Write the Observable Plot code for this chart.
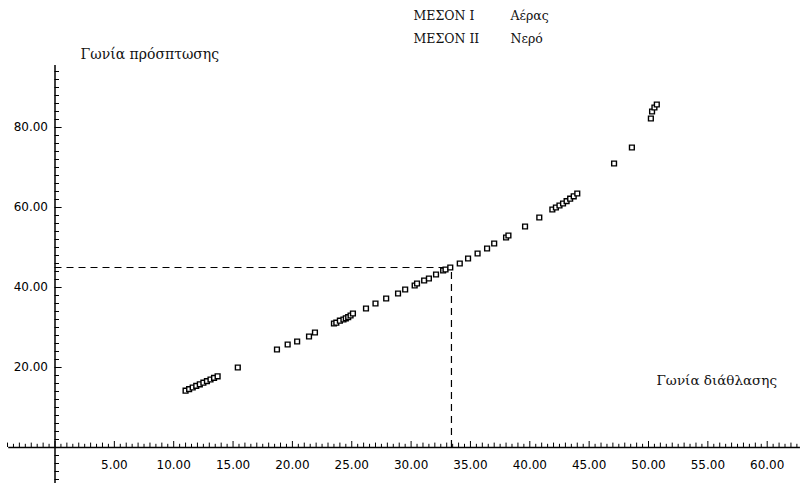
<!DOCTYPE html>
<html>
<head>
<meta charset="utf-8">
<script src="https://cdn.jsdelivr.net/npm/d3@7"></script>
<script src="https://cdn.jsdelivr.net/npm/@observablehq/plot@0.6"></script>
<style>
  body { margin: 0; background: #fff; }
  #chart svg { display: block; }
</style>
</head>
<body>
<div id="chart"></div>
<script>
// Γωνία διάθλασης (refraction angle, x) and Γωνία πρόσπτωσης (incidence angle, y)
const refraction = [
  11.0, 11.3, 11.6, 11.9, 12.2, 12.5, 12.8, 13.1, 13.4, 13.7,
  15.4, 18.7, 19.6, 20.4, 21.4, 21.9,
  23.5, 23.7, 24.0, 24.3, 24.5, 24.7, 24.9, 25.1,
  26.2, 27.0, 27.9, 28.9, 29.5, 30.3, 30.5, 31.1, 31.5, 32.1, 32.7, 32.9, 33.3,
  34.1, 34.8, 35.6, 36.4, 37.0, 38.0, 38.2, 39.6, 40.8,
  41.9, 42.2, 42.5, 42.8, 43.1, 43.4, 43.7, 44.0,
  47.1, 48.6, 50.2, 50.3, 50.5, 50.7
];
const incidence = [
  14.2, 14.6, 15.0, 15.4, 15.8, 16.2, 16.6, 17.0, 17.4, 17.8,
  20.0, 24.5, 25.75, 26.5, 27.75, 28.75,
  31.0, 31.2, 31.7, 32.0, 32.3, 32.6, 33.0, 33.5,
  34.75, 36.0, 37.25, 38.5, 39.5, 40.5, 41.0, 41.75, 42.25, 43.25, 44.25, 44.5, 45.0,
  46.0, 47.25, 48.5, 49.75, 51.0, 52.5, 53.0, 55.25, 57.5,
  59.5, 60.0, 60.5, 61.0, 61.6, 62.2, 62.8, 63.5,
  71.0, 75.0, 82.25, 84.0, 85.0, 85.75
];
const guideX = 33.4;   // dashed guide: refraction angle
const guideY = 45;     // dashed guide: incidence angle

const xTickLabels = [5, 10, 15, 20, 25, 30, 35, 40, 45, 50, 55, 60];
const yTickLabels = [20, 40, 60, 80];
const xMinorTicks = d3.range(-4, 63, 0.5);
const yMinorTicks = d3.range(-8, 96, 2);

const legendLabels = ["ΜΕΣΟΝ Ι", "ΜΕΣΟΝ ΙΙ"];
const legendValues = ["Αέρας", "Νερό"];
const yTitle = "Γωνία πρόσπτωσης";
const xTitle = "Γωνία διάθλασης";

const points = refraction.map((x, i) => ({x, y: incidence[i]}));

const W = 801, H = 483;
const pxX = 11.87, pxY = 4.0;       // pixels per unit
const x0 = 54.5, y0 = 447;          // pixel position of origin

const serif = "DejaVu Serif";
const sans = "DejaVu Sans";

const legendMarks = legendLabels.flatMap((lab, i) => [
  Plot.text([lab], {frameAnchor: "top-left", dx: 413, dy: 15 + i * 23, textAnchor: "start", lineAnchor: "middle", text: d => d, fontFamily: serif, fontSize: 12.5, fill: "#111"}),
  Plot.text([legendValues[i]], {frameAnchor: "top-left", dx: 510, dy: 15 + i * 23, textAnchor: "start", lineAnchor: "middle", text: d => d, fontFamily: serif, fontSize: 12.5, fill: "#111"})
]);

const chart = Plot.plot({
  width: W, height: H,
  marginLeft: 0, marginRight: 0, marginTop: 0, marginBottom: 0,
  x: {domain: [-x0 / pxX, (W - x0) / pxX], axis: null},
  y: {domain: [-(H - y0) / pxY, y0 / pxY], axis: null},
  style: {background: "#fff", color: "#000"},
  marks: [
    // axes lines
    Plot.ruleY([0], {x1: -3.9, x2: 62.8, stroke: "#000", strokeWidth: 1.5}),
    Plot.ruleX([0], {y1: -9, y2: 95.5, stroke: "#000", strokeWidth: 1.5}),
    // x ticks (upward)
    Plot.ruleX(xMinorTicks, {x: d => d, y1: 0, y2: d => (d % 5 === 0 ? 1.5 : (Number.isInteger(d) ? 1.1 : 0.8)), stroke: "#000", strokeWidth: 1}),
    // y ticks (to the right)
    Plot.ruleY(yMinorTicks, {y: d => d, x1: 0, x2: d => (d % 20 === 0 ? 0.6 : 0.38), stroke: "#000", strokeWidth: 1}),
    // tick labels
    Plot.text(xTickLabels, {x: d => d, y: 0, dy: 18, text: d => d3.format(".2f")(d), fontFamily: sans, fontSize: 12, fill: "#000"}),
    Plot.text(yTickLabels, {x: 0, y: d => d, dx: -7, textAnchor: "end", text: d => d3.format(".2f")(d), fontFamily: sans, fontSize: 12, fill: "#000"}),
    // dashed guides
    Plot.ruleY([guideY], {x1: 0, x2: guideX, stroke: "#000", strokeWidth: 1.2, strokeDasharray: "7,5"}),
    Plot.ruleX([guideX], {y1: 0, y2: guideY, stroke: "#000", strokeWidth: 1.2, strokeDasharray: "7,5"}),
    // data points
    Plot.dot(points, {x: "x", y: "y", symbol: "square", r: 2.7, stroke: "#000", strokeWidth: 1.4, fill: "#fff"}),
    // titles and legend
    Plot.text([yTitle], {frameAnchor: "top-left", dx: 80, dy: 54, textAnchor: "start", lineAnchor: "middle", text: d => d, fontFamily: serif, fontSize: 14, fill: "#111"}),
    Plot.text([xTitle], {frameAnchor: "top-left", dx: 656, dy: 380, textAnchor: "start", lineAnchor: "middle", text: d => d, fontFamily: serif, fontSize: 13.5, fill: "#111"}),
    ...legendMarks
  ]
});

document.getElementById("chart").appendChild(chart);
</script>
</body>
</html>
